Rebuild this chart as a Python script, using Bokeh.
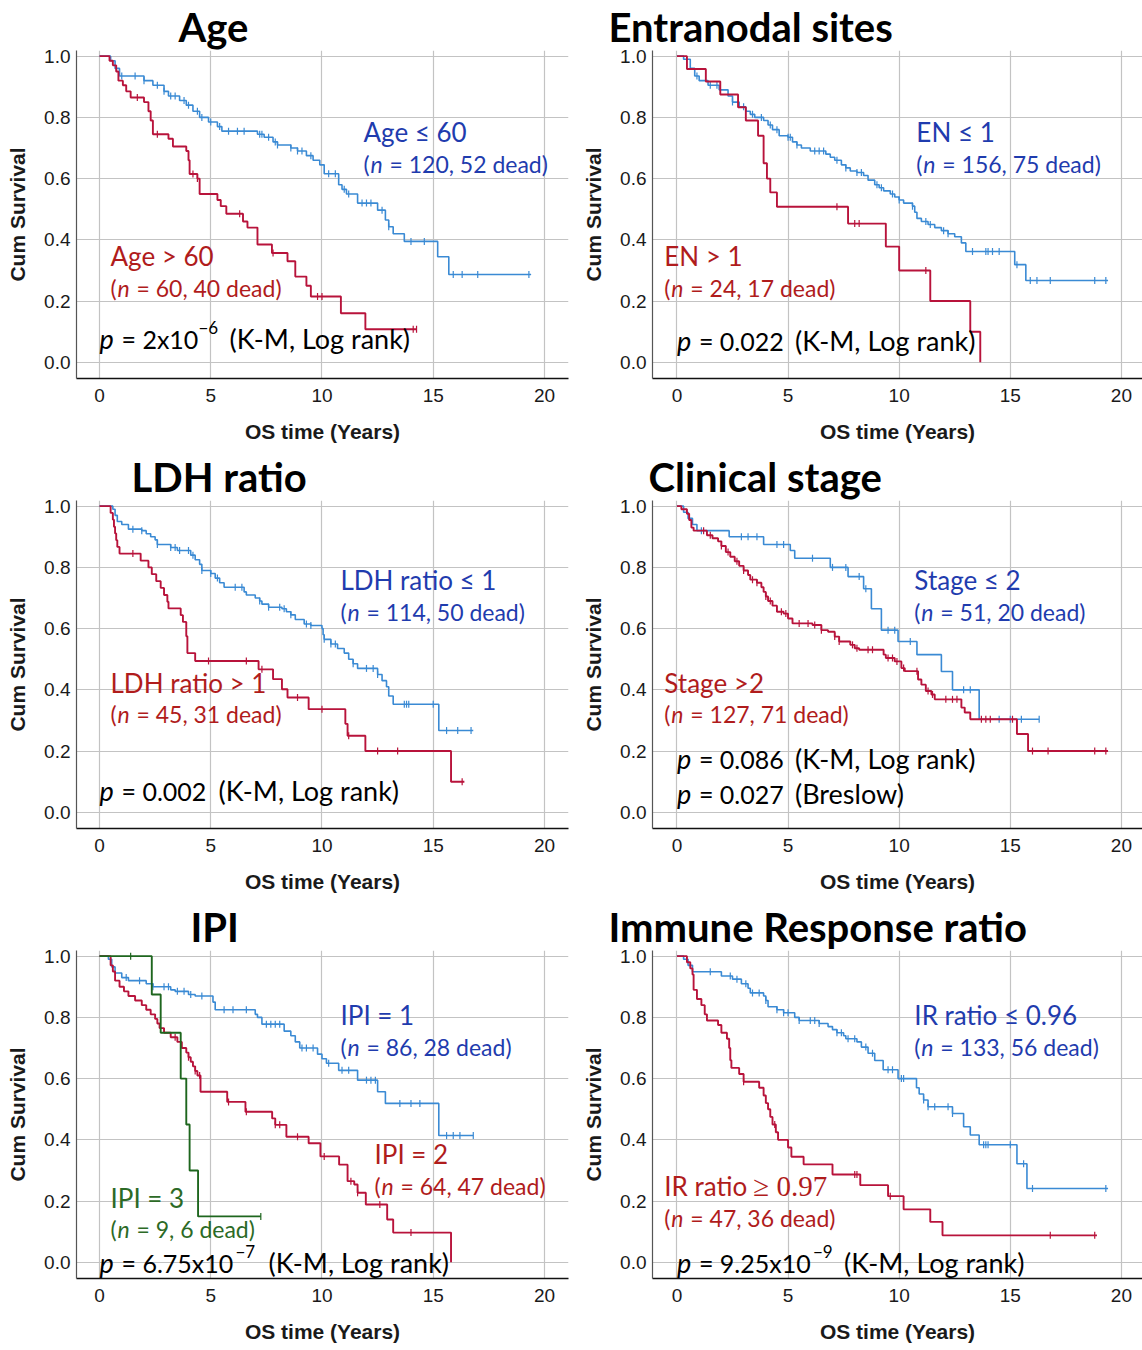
import numpy as np
from bokeh.plotting import figure
from bokeh.layouts import gridplot
from bokeh.models import Label, Range1d, FixedTicker, NumeralTickFormatter, Title
from bokeh.embed import file_html
from bokeh.resources import INLINE

# ---------------- data ----------------
X_TICKS = [0, 5, 10, 15, 20]
Y_TICKS = [0.0, 0.2, 0.4, 0.6, 0.8, 1.0]

# Age
age_le60_t = [0.5, 0.7, 0.9, 2.0, 2.4, 2.9, 3.1, 3.6, 3.9, 4.2, 4.5, 4.9, 5.3, 5.5, 7.1, 7.4, 7.8, 8.0, 8.6, 8.9, 9.3, 9.6, 9.9, 10.1, 10.75, 10.9, 11.1, 11.6, 12.5, 12.85, 13.0, 13.2, 13.7, 15.2, 15.7]
age_le60_s = [0.985, 0.96, 0.935, 0.92, 0.905, 0.885, 0.87, 0.855, 0.84, 0.82, 0.80, 0.785, 0.77, 0.755, 0.745, 0.735, 0.72, 0.71, 0.70, 0.69, 0.675, 0.66, 0.645, 0.616, 0.58, 0.565, 0.55, 0.52, 0.497, 0.465, 0.443, 0.42, 0.395, 0.345, 0.287]
age_le60_end = 19.4
age_le60_cens = [1.0, 1.6, 2.0, 2.6, 2.9, 3.2, 3.4, 3.8, 4.0, 4.4, 4.6, 5.0, 5.4, 5.8, 6.2, 6.5, 7.2, 7.3, 7.6, 7.9, 8.0, 8.6, 8.9, 9.1, 9.5, 10.3, 10.6, 11.0, 11.2, 11.8, 12.0, 12.2, 12.7, 13.0, 14.0, 14.6, 15.9, 16.3, 17.0, 19.3]
age_gt60_t = [0.45, 0.6, 0.75, 0.85, 1.05, 1.2, 1.4, 2.0, 2.2, 2.3, 2.4, 3.1, 3.3, 3.9, 4.0, 4.05, 4.4, 4.5, 5.3, 5.45, 5.7, 6.45, 6.65, 7.1, 7.75, 8.45, 8.8, 9.3, 9.5, 10.85, 11.95]
age_gt60_s = [0.985, 0.97, 0.95, 0.92, 0.905, 0.885, 0.865, 0.85, 0.82, 0.79, 0.745, 0.73, 0.705, 0.69, 0.66, 0.615, 0.60, 0.55, 0.53, 0.51, 0.485, 0.46, 0.44, 0.385, 0.357, 0.33, 0.28, 0.25, 0.215, 0.16, 0.108]
age_gt60_end = 14.25
age_gt60_cens = [1.7, 2.6, 4.2, 4.4, 6.3, 7.8, 9.8, 10.0, 14.1, 14.25]

# Entranodal sites
en_le1_t = [0.3, 0.6, 0.8, 1.0, 1.4, 1.9, 2.3, 2.5, 2.8, 3.1, 3.3, 3.5, 3.9, 4.1, 4.3, 4.6, 5.0, 5.2, 5.4, 5.6, 6.0, 6.7, 6.9, 7.1, 7.4, 7.6, 7.8, 8.1, 8.4, 8.6, 8.9, 9.1, 9.3, 9.6, 9.8, 10.0, 10.2, 10.6, 10.7, 10.8, 11.0, 11.3, 11.6, 11.9, 12.2, 12.5, 12.8, 13.0, 15.2, 15.7]
en_le1_s = [0.99, 0.96, 0.935, 0.92, 0.905, 0.89, 0.87, 0.85, 0.835, 0.82, 0.81, 0.80, 0.79, 0.775, 0.76, 0.74, 0.735, 0.72, 0.71, 0.70, 0.69, 0.68, 0.67, 0.66, 0.645, 0.635, 0.625, 0.62, 0.61, 0.595, 0.58, 0.57, 0.56, 0.55, 0.54, 0.53, 0.52, 0.51, 0.49, 0.47, 0.46, 0.45, 0.44, 0.43, 0.42, 0.41, 0.39, 0.362, 0.319, 0.267]
en_le1_end = 19.4
en_le1_cens = [0.9, 1.5, 1.8, 2.5, 3.0, 3.4, 3.8, 4.2, 4.5, 5.0, 5.1, 5.4, 6.2, 6.4, 6.6, 7.2, 7.6, 8.1, 8.3, 9.0, 9.2, 9.7, 10.0, 10.6, 11.2, 11.4, 12.0, 12.2, 13.3, 13.9, 14.0, 14.2, 14.5, 15.3, 15.9, 16.2, 16.8, 18.8, 19.3]
en_gt1_t = [0.45, 1.3, 1.95, 2.75, 3.1, 3.65, 3.9, 4.05, 4.2, 4.5, 7.7, 9.4, 10.0, 11.4, 13.2, 13.65]
en_gt1_s = [0.958, 0.917, 0.875, 0.833, 0.79, 0.74, 0.65, 0.60, 0.555, 0.508, 0.453, 0.378, 0.30, 0.20, 0.10, 0.0]
en_gt1_end = 13.65
en_gt1_cens = [7.2, 8.0, 8.2, 11.2]

# LDH ratio
ldh_le1_t = [0.6, 0.7, 0.8, 1.0, 1.3, 1.9, 2.1, 2.3, 2.5, 2.6, 3.2, 3.5, 4.1, 4.3, 4.5, 4.6, 5.0, 5.2, 5.4, 5.6, 6.5, 6.6, 7.0, 7.2, 7.3, 7.6, 8.2, 8.4, 8.6, 8.8, 9.2, 9.5, 10.0, 10.05, 10.1, 10.4, 10.7, 11.0, 11.2, 11.4, 11.6, 12.5, 12.7, 12.9, 13.0, 13.2, 15.25]
ldh_le1_s = [0.99, 0.97, 0.95, 0.94, 0.925, 0.92, 0.91, 0.90, 0.89, 0.875, 0.865, 0.855, 0.84, 0.825, 0.81, 0.79, 0.78, 0.765, 0.75, 0.735, 0.72, 0.71, 0.70, 0.69, 0.68, 0.67, 0.665, 0.655, 0.645, 0.63, 0.615, 0.61, 0.60, 0.58, 0.565, 0.55, 0.535, 0.52, 0.50, 0.485, 0.47, 0.45, 0.43, 0.41, 0.38, 0.353, 0.267]
ldh_le1_end = 16.8
ldh_le1_cens = [1.5, 1.9, 2.6, 3.2, 3.4, 3.6, 4.0, 4.2, 4.6, 5.0, 5.3, 6.1, 6.4, 7.2, 7.6, 8.1, 8.3, 8.6, 9.3, 9.5, 10.1, 10.4, 10.6, 11.4, 12.0, 12.3, 12.5, 13.7, 13.8, 13.9, 15.0, 15.6, 16.1, 16.7]
ldh_gt1_t = [0.5, 0.6, 0.65, 0.7, 0.75, 0.8, 0.9, 1.85, 2.2, 2.35, 2.55, 2.75, 2.9, 3.05, 3.1, 3.65, 3.75, 3.9, 3.95, 4.3, 7.15, 7.8, 8.2, 8.45, 9.4, 11.05, 11.15, 11.95, 15.8]
ldh_gt1_s = [0.978, 0.956, 0.933, 0.911, 0.889, 0.867, 0.845, 0.822, 0.80, 0.778, 0.755, 0.733, 0.71, 0.688, 0.666, 0.644, 0.622, 0.575, 0.52, 0.494, 0.467, 0.435, 0.402, 0.375, 0.337, 0.289, 0.25, 0.20, 0.10]
ldh_gt1_end = 16.4
ldh_gt1_cens = [1.5, 4.9, 6.6, 7.3, 8.9, 10.0, 11.2, 12.5, 13.4, 16.3]

# Clinical stage
st_le2_t = [0.3, 0.5, 0.7, 0.9, 2.35, 3.9, 5.1, 5.3, 6.9, 7.7, 8.4, 8.75, 9.2, 9.95, 10.8, 11.9, 12.4, 13.6]
st_le2_s = [0.98, 0.96, 0.94, 0.92, 0.90, 0.875, 0.855, 0.83, 0.80, 0.77, 0.73, 0.665, 0.595, 0.558, 0.515, 0.46, 0.40, 0.304]
st_le2_end = 16.3
st_le2_cens = [1.1, 2.9, 3.2, 3.6, 4.5, 4.8, 6.1, 7.0, 7.6, 8.2, 8.5, 9.5, 9.8, 10.5, 12.9, 13.2, 14.5, 15.0, 15.5, 16.3]
st_gt2_t = [0.2, 0.45, 0.55, 0.65, 0.75, 1.35, 1.6, 1.85, 2.0, 2.2, 2.4, 2.6, 2.8, 3.0, 3.2, 3.3, 3.6, 3.8, 3.9, 4.0, 4.1, 4.3, 4.5, 4.8, 5.0, 5.2, 6.1, 6.5, 6.8, 7.1, 7.3, 7.8, 8.0, 8.2, 9.3, 9.4, 9.8, 10.1, 10.25, 10.85, 11.0, 11.2, 11.45, 11.6, 12.8, 12.95, 13.2, 15.3, 15.8]
st_gt2_s = [0.99, 0.975, 0.955, 0.93, 0.92, 0.905, 0.895, 0.885, 0.87, 0.85, 0.835, 0.82, 0.805, 0.79, 0.775, 0.76, 0.75, 0.735, 0.72, 0.705, 0.69, 0.675, 0.655, 0.649, 0.633, 0.617, 0.612, 0.595, 0.59, 0.574, 0.558, 0.547, 0.536, 0.531, 0.515, 0.504, 0.493, 0.471, 0.461, 0.434, 0.417, 0.396, 0.385, 0.369, 0.342, 0.326, 0.304, 0.256, 0.20]
st_gt2_end = 19.4
st_gt2_cens = [1.2, 1.5, 2.0, 2.3, 2.7, 3.0, 3.4, 3.6, 4.0, 4.2, 4.7, 4.9, 5.5, 5.9, 6.2, 6.5, 7.1, 7.3, 7.9, 8.1, 8.6, 8.8, 9.5, 9.7, 9.9, 10.2, 10.8, 11.3, 11.5, 12.1, 12.4, 12.6, 13.7, 13.9, 14.1, 15.1, 16.0, 16.7, 18.8, 19.3]

# IPI
ipi1_t = [0.4, 0.55, 0.7, 1.0, 1.3, 2.1, 2.4, 3.2, 3.4, 4.0, 4.3, 5.1, 5.2, 7.0, 7.1, 7.3, 8.3, 8.6, 8.8, 9.0, 9.8, 10.0, 10.2, 10.75, 11.6, 12.5, 12.85, 15.25]
ipi1_s = [0.99, 0.965, 0.945, 0.93, 0.92, 0.91, 0.90, 0.89, 0.885, 0.875, 0.87, 0.85, 0.825, 0.81, 0.80, 0.778, 0.755, 0.74, 0.72, 0.70, 0.68, 0.665, 0.65, 0.627, 0.595, 0.557, 0.519, 0.414]
ipi1_end = 16.8
ipi1_cens = [1.2, 1.8, 2.4, 2.9, 3.1, 3.5, 3.8, 4.1, 4.6, 5.6, 6.0, 6.6, 7.5, 7.7, 7.9, 8.1, 9.1, 9.3, 9.6, 10.3, 10.9, 11.2, 12.0, 12.2, 12.4, 13.5, 14.0, 14.4, 15.6, 15.9, 16.2, 16.8]
ipi2_t = [0.5, 0.6, 0.7, 0.9, 1.1, 1.3, 1.6, 1.9, 2.1, 2.3, 2.5, 2.6, 2.7, 2.9, 3.2, 3.5, 3.7, 3.9, 4.0, 4.1, 4.2, 4.3, 4.4, 4.54, 5.74, 6.56, 7.76, 7.9, 8.4, 9.4, 9.93, 10.77, 11.15, 11.45, 11.6, 11.97, 12.93, 13.2, 15.8]
ipi2_s = [0.97, 0.95, 0.92, 0.90, 0.885, 0.87, 0.855, 0.84, 0.825, 0.81, 0.795, 0.78, 0.765, 0.75, 0.735, 0.72, 0.70, 0.685, 0.67, 0.655, 0.64, 0.625, 0.61, 0.557, 0.524, 0.492, 0.47, 0.449, 0.41, 0.389, 0.346, 0.319, 0.265, 0.254, 0.227, 0.189, 0.14, 0.097, 0.0]
ipi2_end = 15.8
ipi2_cens = [3.4, 4.0, 4.3, 4.5, 5.8, 6.6, 7.9, 8.1, 8.9, 10.1, 11.3, 11.6, 12.6, 14.0]
ipi3_t = [2.35, 2.75, 3.65, 3.9, 4.05, 4.43]
ipi3_s = [0.875, 0.75, 0.60, 0.45, 0.30, 0.15]
ipi3_end = 7.25
ipi3_cens = [1.4, 7.25]

# Immune Response ratio
ir_le_t = [0.3, 0.5, 0.7, 2.0, 2.5, 2.9, 3.2, 3.3, 3.9, 4.0, 4.1, 4.5, 4.8, 5.3, 5.5, 6.4, 6.8, 7.0, 7.2, 7.5, 7.6, 8.1, 8.3, 8.6, 8.9, 9.28, 9.95, 10.78, 10.9, 11.1, 11.3, 12.4, 12.9, 13.2, 13.6, 15.3, 15.75]
ir_le_s = [0.99, 0.97, 0.949, 0.935, 0.925, 0.91, 0.895, 0.88, 0.87, 0.855, 0.835, 0.825, 0.815, 0.80, 0.79, 0.78, 0.77, 0.76, 0.75, 0.74, 0.73, 0.72, 0.703, 0.683, 0.659, 0.629, 0.60, 0.57, 0.55, 0.53, 0.508, 0.486, 0.443, 0.416, 0.384, 0.322, 0.241]
ir_le_end = 19.4
ir_le_cens = [1.5, 2.4, 2.7, 3.1, 3.4, 3.7, 4.0, 4.5, 4.8, 5.0, 5.5, 6.0, 6.2, 6.4, 7.2, 7.4, 7.7, 8.0, 8.5, 8.8, 9.5, 9.7, 10.1, 10.2, 11.1, 11.3, 11.6, 12.2, 12.4, 13.8, 13.9, 14.0, 15.0, 15.6, 16.0, 19.3]
ir_ge_t = [0.45, 0.6, 0.7, 0.75, 0.9, 1.1, 1.25, 1.35, 1.85, 2.0, 2.25, 2.35, 2.4, 2.45, 2.8, 3.0, 3.7, 3.9, 4.0, 4.1, 4.2, 4.3, 4.45, 4.55, 5.0, 5.15, 5.7, 7.0, 8.25, 9.5, 10.2, 11.4, 11.95]
ir_ge_s = [0.98, 0.96, 0.94, 0.89, 0.86, 0.84, 0.81, 0.79, 0.775, 0.75, 0.73, 0.70, 0.66, 0.635, 0.615, 0.59, 0.57, 0.545, 0.52, 0.50, 0.475, 0.45, 0.425, 0.40, 0.375, 0.345, 0.32, 0.287, 0.252, 0.216, 0.173, 0.132, 0.088]
ir_ge_end = 18.9
ir_ge_cens = [3.0, 4.4, 8.0, 8.1, 9.6, 16.8, 18.8]

# ---------------- styling ----------------
BLUE_LINE = "#3a8ad4"
BLUE_TEXT = "#1f3cae"
RED_LINE = "#b8133b"
RED_TEXT = "#b01c1c"
GREEN_LINE = "#1e661e"
GREEN_TEXT = "#2c6a26"
SANS = "Lato"
BASE_DY = 10          # correction of the alphabetic baseline placement
FRAME_TOP = 48.0      # expected pixel row of the frame top (below the title panel)
PX_1 = 53.7           # pixel row of y = 1.0
PX_0 = 361.7          # pixel row of y = 0.0
PX_AXIS = 378.0       # pixel row of the x axis line
PER = PX_0 - PX_1


def step_xy(t, s, t_end):
    if len(t) != len(s):
        raise ValueError("length mismatch %d %d" % (len(t), len(s)))
    xs, ys, prev = [0.0], [1.0], 1.0
    for ti, si in zip(t, s):
        xs += [ti, ti]
        ys += [prev, si]
        prev = si
    xs.append(t_end)
    ys.append(prev)
    return xs, ys


def surv_at(t, s, c):
    vals = np.concatenate([[1.0], np.asarray(s)])
    idx = np.searchsorted(np.asarray(t), np.asarray(c), side="right")
    return vals[idx]


def make_fig(col, title_text, title_left):
    if col == 0:
        xr, mbl, mbr = Range1d(-1.034, 21.08), 76, 3
    else:
        xr, mbl, mbr = Range1d(-1.1, 20.95), 81, 0
    y0 = -(PX_AXIS - PX_0) / PER
    y1 = 1.0 + (PX_1 - FRAME_TOP) / PER
    p = figure(width=571, height=450, x_range=xr, y_range=Range1d(y0, y1),
               output_backend="svg", toolbar_location=None, title=None,
               min_border_left=mbl, min_border_right=mbr, min_border_top=0, min_border_bottom=72)
    t = Title(text=title_text, align="left", offset=title_left - mbl, standoff=0,
              text_font=SANS, text_font_style="bold", text_font_size="40px", text_color="#000000")
    p.add_layout(t, "above")
    p.outline_line_color = None
    p.background_fill_color = "white"
    p.border_fill_color = "white"
    for ax in (p.xaxis[0], p.yaxis[0]):
        ax.major_tick_out = 0
        ax.major_tick_in = 0
        ax.minor_tick_out = 0
        ax.minor_tick_in = 0
        ax.major_label_text_font = "Liberation Sans"
        ax.major_label_text_font_size = "19px"
        ax.major_label_text_color = "#1a1a1a"
        ax.axis_label_text_font = "Liberation Sans"
        ax.axis_label_text_font_style = "bold"
        ax.axis_label_text_font_size = "21px"
        ax.axis_label_text_color = "#1a1a1a"
    p.xaxis.ticker = FixedTicker(ticks=X_TICKS)
    p.yaxis.ticker = FixedTicker(ticks=Y_TICKS)
    p.yaxis.formatter = NumeralTickFormatter(format="0.0")
    p.xaxis.axis_label = "OS time (Years)"
    p.yaxis.axis_label = "Cum Survival"
    p.xaxis.axis_line_color = "#111111"
    p.xaxis.axis_line_width = 1.6
    p.yaxis.axis_line_color = "#555555"
    p.yaxis.axis_line_width = 1.2
    p.xaxis.major_label_standoff = 10
    p.xaxis.axis_label_standoff = 15
    p.yaxis.major_label_standoff = 6
    p.yaxis.axis_label_standoff = 12
    p.xgrid.ticker = FixedTicker(ticks=X_TICKS)
    p.ygrid.ticker = FixedTicker(ticks=Y_TICKS)
    p.grid.grid_line_color = "#c3c3c3"
    p.grid.grid_line_width = 1.2
    return p


def curve(p, t, s, t_end, cens, color, width=1.6):
    xs, ys = step_xy(t, s, t_end)
    p.line(xs, ys, line_color=color, line_width=width)
    cy = surv_at(t, s, cens)
    p.scatter(cens, cy, marker="dash", angle=np.pi / 2, size=7, line_color=color, line_width=1.2)


# pixel (panel-relative) -> data helpers for annotations
def X(col, px):
    return (px - 99.0) / 22.25 if col == 0 else (px - 105.6) / 22.22


def Y(py):
    return (PX_0 - py) / PER


def lab(p, col, px, py, text, size, color, font=SANS, style="normal", dx=0, dy=0, align="left"):
    p.add_layout(Label(x=X(col, px), y=Y(py), text=text, x_offset=dx, y_offset=dy + BASE_DY,
                       text_font=font, text_font_size="%dpx" % size, text_font_style=style,
                       text_color=color, text_align=align, text_baseline="alphabetic"))


def nline(p, col, px, py, rest, color):
    lab(p, col, px, py, "(", 23, color)
    lab(p, col, px, py, "n", 23, color, style="italic", dx=7)
    lab(p, col, px, py, rest, 23, color, dx=26)


def pline(p, col, px, py, main, rest, rest_dx, sup=None, sup_dx=0):
    lab(p, col, px, py, "p", 27, "#000000", style="italic")
    lab(p, col, px, py, main, 25, "#000000", dx=22)
    if sup:
        lab(p, col, px, py, sup, 17, "#000000", dx=sup_dx, dy=11)
    lab(p, col, px, py, rest, 27, "#000000", dx=rest_dx)


RED_W = 1.9

# ---------------- panel 1: Age ----------------
p1 = make_fig(0, "Age", 178)
curve(p1, age_le60_t, age_le60_s, age_le60_end, age_le60_cens, BLUE_LINE)
curve(p1, age_gt60_t, age_gt60_s, age_gt60_end, age_gt60_cens, RED_LINE, RED_W)
lab(p1, 0, 363, 140, "Age ≤ 60", 26, BLUE_TEXT)
nline(p1, 0, 363, 172, "= 120, 52 dead)", BLUE_TEXT)
lab(p1, 0, 110, 265, "Age > 60", 26, RED_TEXT)
nline(p1, 0, 110, 297, "= 60, 40 dead)", RED_TEXT)
pline(p1, 0, 99, 348, "= 2x10", "(K-M, Log rank)", 130, sup="−6", sup_dx=99)

# ---------------- panel 2: Entranodal sites ----------------
p2 = make_fig(1, "Entranodal sites", 37)
curve(p2, en_le1_t, en_le1_s, en_le1_end, en_le1_cens, BLUE_LINE)
curve(p2, en_gt1_t, en_gt1_s, en_gt1_end, en_gt1_cens, RED_LINE, RED_W)
lab(p2, 1, 345, 140, "EN ≤ 1", 26, BLUE_TEXT)
nline(p2, 1, 345, 172, "= 156, 75 dead)", BLUE_TEXT)
lab(p2, 1, 93, 265, "EN > 1", 26, RED_TEXT)
nline(p2, 1, 93, 297, "= 24, 17 dead)", RED_TEXT)
pline(p2, 1, 105.6, 350, "= 0.022", "(K-M, Log rank)", 118)

# ---------------- panel 3: LDH ratio ----------------
p3 = make_fig(0, "LDH ratio", 131)
curve(p3, ldh_le1_t, ldh_le1_s, ldh_le1_end, ldh_le1_cens, BLUE_LINE)
curve(p3, ldh_gt1_t, ldh_gt1_s, ldh_gt1_end, ldh_gt1_cens, RED_LINE, RED_W)
lab(p3, 0, 340, 138, "LDH ratio ≤ 1", 26, BLUE_TEXT)
nline(p3, 0, 340, 170, "= 114, 50 dead)", BLUE_TEXT)
lab(p3, 0, 110, 242, "LDH ratio > 1", 26, RED_TEXT)
nline(p3, 0, 110, 273, "= 45, 31 dead)", RED_TEXT)
pline(p3, 0, 99, 350, "= 0.002", "(K-M, Log rank)", 119)

# ---------------- panel 4: Clinical stage ----------------
p4 = make_fig(1, "Clinical stage", 77)
curve(p4, st_le2_t, st_le2_s, st_le2_end, st_le2_cens, BLUE_LINE)
curve(p4, st_gt2_t, st_gt2_s, st_gt2_end, st_gt2_cens, RED_LINE, RED_W)
lab(p4, 1, 343, 138, "Stage ≤ 2", 26, BLUE_TEXT)
nline(p4, 1, 343, 170, "= 51, 20 dead)", BLUE_TEXT)
lab(p4, 1, 93, 242, "Stage >2", 26, RED_TEXT)
nline(p4, 1, 93, 273, "= 127, 71 dead)", RED_TEXT)
pline(p4, 1, 105.6, 318, "= 0.086", "(K-M, Log rank)", 118)
pline(p4, 1, 105.6, 353, "= 0.027", "(Breslow)", 118)

# ---------------- panel 5: IPI ----------------
p5 = make_fig(0, "IPI", 190)
curve(p5, ipi1_t, ipi1_s, ipi1_end, ipi1_cens, BLUE_LINE)
curve(p5, ipi2_t, ipi2_s, ipi2_end, ipi2_cens, RED_LINE, RED_W)
curve(p5, ipi3_t, ipi3_s, ipi3_end, ipi3_cens, GREEN_LINE, RED_W)
lab(p5, 0, 340, 123, "IPI = 1", 26, BLUE_TEXT)
nline(p5, 0, 340, 155, "= 86, 28 dead)", BLUE_TEXT)
lab(p5, 0, 374, 263, "IPI = 2", 26, RED_TEXT)
nline(p5, 0, 374, 295, "= 64, 47 dead)", RED_TEXT)
lab(p5, 0, 110, 307, "IPI = 3", 26, GREEN_TEXT)
nline(p5, 0, 110, 338, "= 9, 6 dead)", GREEN_TEXT)
pline(p5, 0, 99, 372, "= 6.75x10", "(K-M, Log rank)", 169, sup="−7", sup_dx=136)

# ---------------- panel 6: Immune Response ratio ----------------
p6 = make_fig(1, "Immune Response ratio", 37)
curve(p6, ir_le_t, ir_le_s, ir_le_end, ir_le_cens, BLUE_LINE)
curve(p6, ir_ge_t, ir_ge_s, ir_ge_end, ir_ge_cens, RED_LINE, RED_W)
lab(p6, 1, 343, 123, "IR ratio ≤ 0.96", 26, BLUE_TEXT)
nline(p6, 1, 343, 155, "= 133, 56 dead)", BLUE_TEXT)
lab(p6, 1, 93, 295, "IR ratio", 26, RED_TEXT)
lab(p6, 1, 93, 295, "≥ 0.97", 29, RED_TEXT, font="Liberation Serif", dx=89)
nline(p6, 1, 93, 327, "= 47, 36 dead)", RED_TEXT)
pline(p6, 1, 105.6, 372, "= 9.25x10", "(K-M, Log rank)", 167, sup="−9", sup_dx=136)

grid = gridplot([[p1, p2], [p3, p4], [p5, p6]], toolbar_location=None)
open("out.html", "w").write(file_html(grid, INLINE))
